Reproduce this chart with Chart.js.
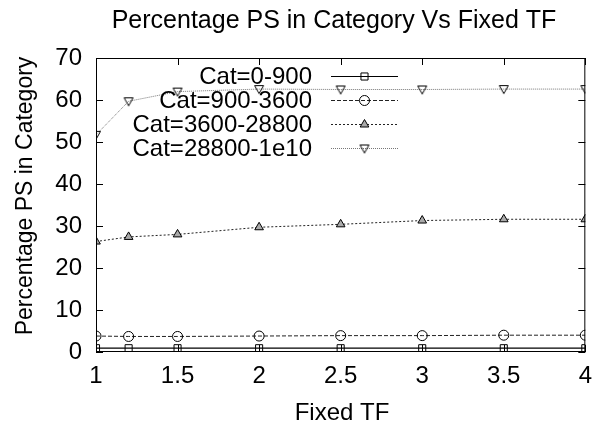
<!DOCTYPE html>
<html>
<head>
<meta charset="utf-8">
<script src="https://cdn.jsdelivr.net/npm/chart.js@4.4.0/dist/chart.umd.min.js"></script>
<style>
  html, body { margin: 0; padding: 0; background: #fff; }
  #wrap { width: 602px; height: 428px; }
</style>
</head>
<body>
<div id="wrap"><canvas id="psChart" width="602" height="428"></canvas></div>
<script>
// Data
const fixedTF = [1, 1.2, 1.5, 2, 2.5, 3, 3.5, 4];
const cat0to900 = [0.9, 0.9, 0.9, 0.9, 0.9, 0.9, 0.9, 0.9];
const cat900to3600 = [3.8, 3.7, 3.7, 3.8, 3.9, 3.9, 4.0, 4.0];
const cat3600to28800 = [26.3, 27.4, 28.0, 29.7, 30.4, 31.3, 31.6, 31.6];
const cat28800to1e10 = [51.7, 59.7, 62.0, 62.6, 62.5, 62.5, 62.6, 62.6];
const seriesNames = ['Cat=0-900', 'Cat=900-3600', 'Cat=3600-28800', 'Cat=28800-1e10'];
const xTicks = [1, 1.5, 2, 2.5, 3, 3.5, 4];
const yTicks = [0, 10, 20, 30, 40, 50, 60, 70];

const FONT = '"Liberation Sans", Arial, sans-serif';
const FSIZE = 24;

function pts(ys) {
    return fixedTF.map((x, i) => ({ x: x, y: ys[i] }));
}

// Downward triangle marker
const triDown = document.createElement('canvas');
triDown.width = 12; triDown.height = 12;
(function() {
    const c = triDown.getContext('2d');
    c.strokeStyle = '#000';
    c.fillStyle = '#aaa';
    c.lineWidth = 1;
    c.beginPath();
    c.moveTo(1.5, 2.5); c.lineTo(10.5, 2.5); c.lineTo(6, 10.5); c.closePath();
    c.stroke();
})();

// Gnuplot style frame, inward ticks, title, axis titles and legend
const gnuplotLook = {
    id: 'gnuplotLook',
    afterDatasetsDraw(chart) {
        const ctx = chart.ctx;
        const a = chart.chartArea;
        const xs = chart.scales.x, ys = chart.scales.y;
        ctx.save();
        ctx.strokeStyle = '#000';
        ctx.lineWidth = 1;
        ctx.strokeRect(a.left + 0.5, a.top + 0.5, a.right - a.left - 1, a.bottom - a.top - 1);
        ctx.beginPath();
        xTicks.forEach(v => {
            const px = Math.round(xs.getPixelForValue(v)) + 0.5;
            ctx.moveTo(px, a.bottom); ctx.lineTo(px, a.bottom - 7);
            ctx.moveTo(px, a.top); ctx.lineTo(px, a.top + 7);
        });
        yTicks.forEach(v => {
            const py = Math.round(ys.getPixelForValue(v)) + 0.5;
            ctx.moveTo(a.left, py); ctx.lineTo(a.left + 7, py);
            ctx.moveTo(a.right, py); ctx.lineTo(a.right - 7, py);
        });
        ctx.stroke();

        // title and axis titles
        ctx.fillStyle = '#000';
        ctx.textAlign = 'center';
        ctx.textBaseline = 'middle';
        ctx.font = '25px ' + FONT;
        ctx.fillText('Percentage PS in Category Vs Fixed TF', 334, 21);
        ctx.font = FSIZE + 'px ' + FONT;
        ctx.fillText('Fixed TF', 342, 413);
        ctx.save();
        ctx.translate(26, 196);
        ctx.rotate(-Math.PI / 2);
        ctx.font = '23px ' + FONT;
        ctx.fillText('Percentage PS in Category', 0, 0);
        ctx.restore();

        // legend: text right aligned, sample on the right
        const rows = [76, 100, 124, 148];
        chart.data.datasets.forEach((ds, i) => {
            const y = rows[i];
            ctx.fillStyle = '#000';
            ctx.textAlign = 'right';
            ctx.fillText(ds.label, 312, y + 1);
            ctx.save();
            ctx.strokeStyle = ds.borderColor;
            ctx.lineWidth = ds.borderWidth;
            ctx.setLineDash(ds.borderDash || []);
            ctx.beginPath();
            ctx.moveTo(331, y + 0.5); ctx.lineTo(398, y + 0.5);
            ctx.stroke();
            ctx.restore();
            ctx.save();
            ctx.strokeStyle = ds.pointBorderColor || '#000';
            ctx.fillStyle = ds.pointBackgroundColor || 'rgba(0,0,0,0)';
            ctx.lineWidth = 1;
            Chart.helpers.drawPoint(ctx, {
                pointStyle: ds.pointStyle,
                radius: ds.pointRadius,
                rotation: 0,
                borderWidth: 1
            }, 364.5, y + 0.5);
            ctx.restore();
        });
        ctx.restore();
    }
};

const tickFont = { family: FONT, size: FSIZE };

new Chart(document.getElementById('psChart'), {
    type: 'line',
    data: {
        datasets: [
            {
                label: seriesNames[0],
                data: pts(cat0to900),
                borderColor: '#000',
                borderWidth: 1.2,
                pointStyle: 'rect',
                pointRadius: 5,
                pointBorderColor: '#000',
                pointBackgroundColor: 'rgba(0,0,0,0)',
                pointBorderWidth: 1
            },
            {
                label: seriesNames[1],
                data: pts(cat900to3600),
                borderColor: '#222',
                borderWidth: 1,
                borderDash: [4, 2],
                pointStyle: 'circle',
                pointRadius: 5,
                pointBorderColor: '#000',
                pointBackgroundColor: 'rgba(0,0,0,0)',
                pointBorderWidth: 1
            },
            {
                label: seriesNames[2],
                data: pts(cat3600to28800),
                borderColor: '#222',
                borderWidth: 1,
                borderDash: [2, 2],
                pointStyle: 'triangle',
                pointRadius: 5,
                pointBorderColor: '#000',
                pointBackgroundColor: '#aaa',
                pointBorderWidth: 1
            },
            {
                label: seriesNames[3],
                data: pts(cat28800to1e10),
                borderColor: '#777',
                borderWidth: 1,
                borderDash: [1, 1],
                pointStyle: triDown,
                pointRadius: 5,
                pointBorderColor: '#000',
                pointBorderWidth: 1
            }
        ]
    },
    options: {
        responsive: false,
        animation: false,
        layout: { padding: { top: 58, right: 13, left: 0, bottom: 0 } },
        plugins: {
            legend: { display: false },
            title: { display: false },
            tooltip: { enabled: false }
        },
        scales: {
            x: {
                type: 'linear',
                min: 1,
                max: 4,
                afterFit: s => { s.height = 76; },
                afterBuildTicks: s => { s.ticks = xTicks.map(v => ({ value: v })); },
                grid: { display: false, drawTicks: false },
                border: { display: false },
                ticks: {
                    color: '#000',
                    font: tickFont,
                    padding: 10,
                    maxRotation: 0,
                    callback: v => String(v)
                }
            },
            y: {
                type: 'linear',
                min: 0,
                max: 70,
                afterFit: s => { s.width = 96; },
                afterBuildTicks: s => { s.ticks = yTicks.map(v => ({ value: v })); },
                grid: { display: false, drawTicks: false },
                border: { display: false },
                ticks: {
                    color: '#000',
                    font: tickFont,
                    padding: 14,
                    callback: v => String(v)
                }
            }
        }
    },
    plugins: [gnuplotLook]
});
</script>
</body>
</html>
